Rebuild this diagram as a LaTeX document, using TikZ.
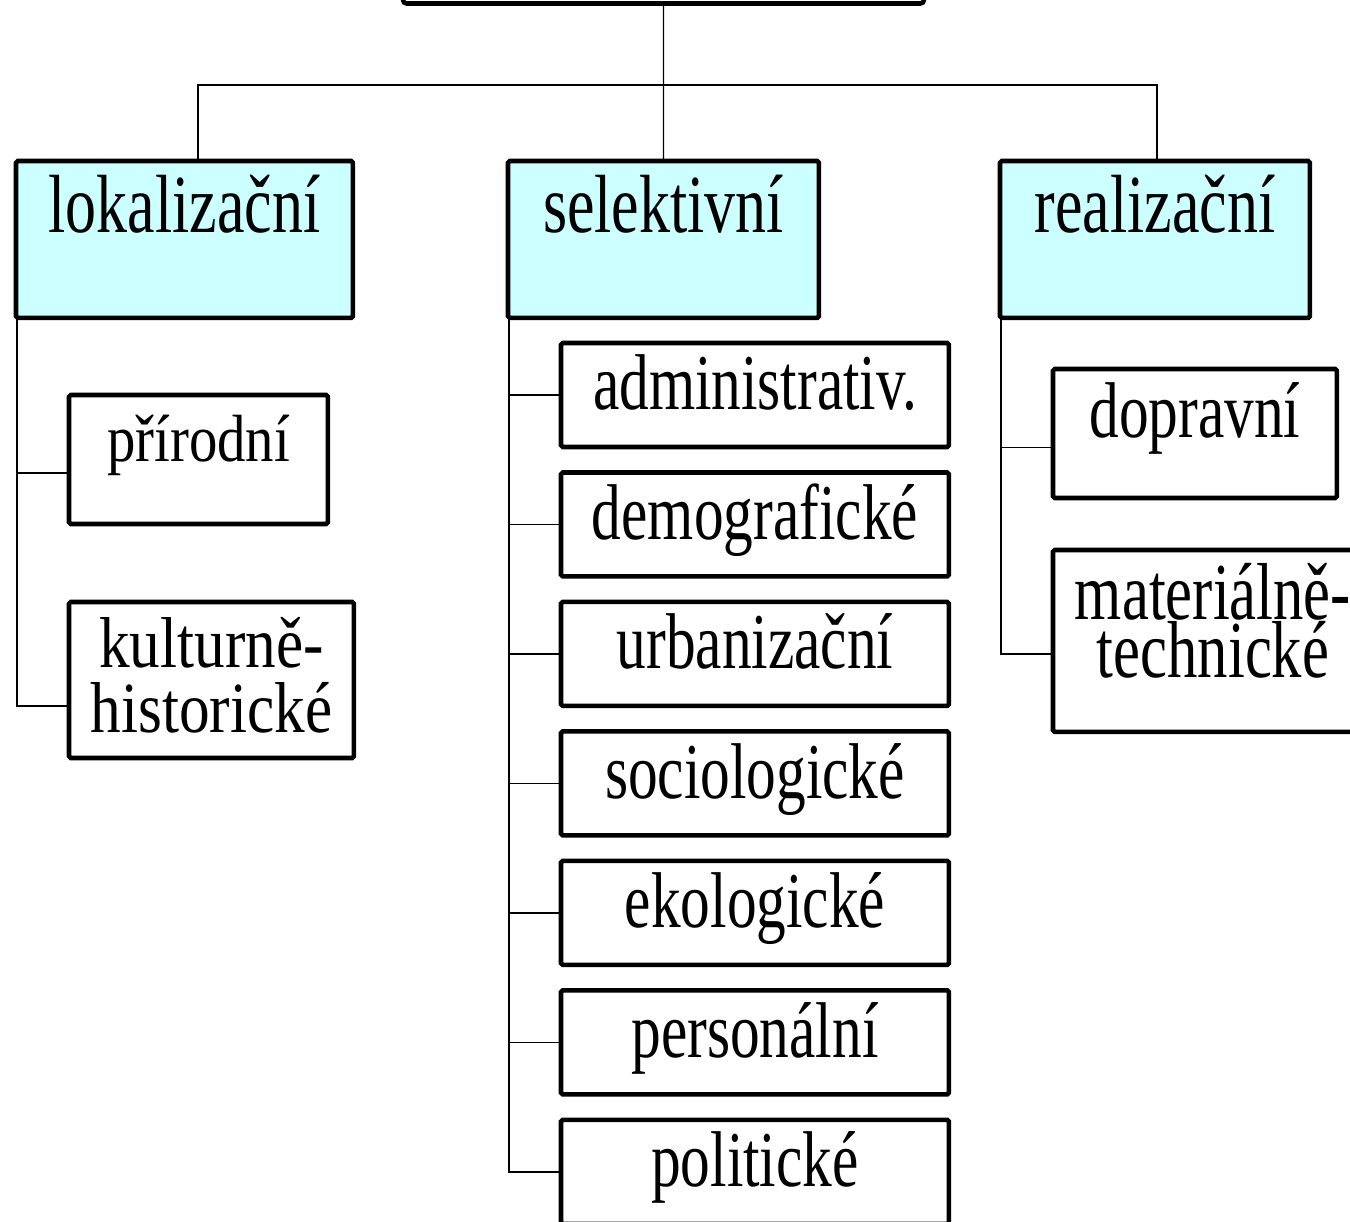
\documentclass[tikz,border=0pt]{standalone}
\usepackage{fontspec}
\usepackage{xcolor,tikz}
\usetikzlibrary{positioning}
\newfontfamily\boxfont[FakeStretch=0.75]{Liberation Serif}
\newfontfamily\leftboxfont[FakeStretch=0.85]{Liberation Serif}
\definecolor{catcyan}{HTML}{CCFFFF}
\tikzset{
  frame/.style={draw,line width=2.6pt,rounded corners=1pt,inner sep=0pt,outer sep=0pt,anchor=north west,align=center},
  catbox/.style={frame,fill=catcyan,minimum height=3.14cm,text height=1.1cm,text depth=1.36cm,font=\boxfont\fontsize{47}{47}\selectfont},
  midbox/.style={frame,minimum width=7.76cm,minimum height=2.08cm,text height=1.2cm,text depth=0.6cm,font=\boxfont\fontsize{45}{45}\selectfont},
  conn/.style={line width=0.8pt}
}

\begin{document}
\begin{tikzpicture}[x=0.02cm,y=-0.02cm]
\useasboundingbox (0,0) rectangle (1350,1222);
% top box, only its lower edge is seen
\node[draw,line width=2.6pt,rounded corners=2pt,outer sep=0pt,minimum width=10.42cm,minimum height=2cm,anchor=south] (root) at (663.5,3.5) {};
% second level
\node[catbox,minimum width=6.74cm] (lok) at (16,161) {lokalizační};
\node[catbox,minimum width=6.22cm] (sel) at (508,161) {selektivní};
\node[catbox,minimum width=6.2cm] (real) at (1000,161) {realizační};
% left column
\node[frame,minimum width=5.18cm,minimum height=2.58cm,text height=1cm,text depth=0.9cm,font=\leftboxfont\fontsize{38}{38}\selectfont] (prir) at (69,395) {přírodní};
\node[frame,minimum width=5.7cm,minimum height=3.12cm,text height=2.4cm,text depth=0.28cm,font=\leftboxfont\fontsize{41}{37.5}\selectfont] (kult) at (69,602) {kulturně-\\historické};
% middle column
\node[midbox] (adm) at (561,343) {administrativ.};
\node[midbox,below=0.51cm of adm] (dem) {demografické};
\node[midbox,below=0.51cm of dem] (urb) {urbanizační};
\node[midbox,below=0.51cm of urb] (soc) {sociologické};
\node[midbox,below=0.51cm of soc] (eko) {ekologické};
\node[midbox,below=0.51cm of eko] (pers) {personální};
\node[midbox,below=0.51cm of pers] (pol) {politické};
% right column
\node[frame,minimum width=5.68cm,minimum height=2.58cm,text height=1.1cm,text depth=0.92cm,font=\boxfont\fontsize{45}{45}\selectfont] (dop) at (1053,369) {dopravní};
\node[frame,minimum width=6.4cm,minimum height=3.64cm,text height=2cm,text depth=0.52cm,font=\boxfont\fontsize{46}{28.5}\selectfont] (mat) at (1053,550) {materiálně-\\technické};
% connectors
\coordinate (bus) at (663.5,85);
\draw[conn] (root.south) -- (sel.north);
\draw[conn] ([xshift=0.27cm]lok.north) |- (bus) -| ([xshift=0.04cm]real.north);
\draw[conn] ([xshift=0.02cm]lok.south west) |- ([yshift=-0.27cm]prir.west);
\draw[conn] ([xshift=0.02cm]lok.south west) |- ([yshift=-0.52cm]kult.west);
\draw[conn] ([xshift=0.02cm]sel.south west) |- (adm.west);
\draw[conn] ([xshift=0.02cm]sel.south west) |- (dem.west);
\draw[conn] ([xshift=0.02cm]sel.south west) |- (urb.west);
\draw[conn] ([xshift=0.02cm]sel.south west) |- (soc.west);
\draw[conn] ([xshift=0.02cm]sel.south west) |- (eko.west);
\draw[conn] ([xshift=0.02cm]sel.south west) |- (pers.west);
\draw[conn] ([xshift=0.02cm]sel.south west) |- (pol.west);
\draw[conn] ([xshift=0.02cm]real.south west) |- ([yshift=-0.28cm]dop.west);
\draw[conn] ([xshift=0.02cm]real.south west) |- ([yshift=-0.26cm]mat.west);
\end{tikzpicture}
\end{document}
